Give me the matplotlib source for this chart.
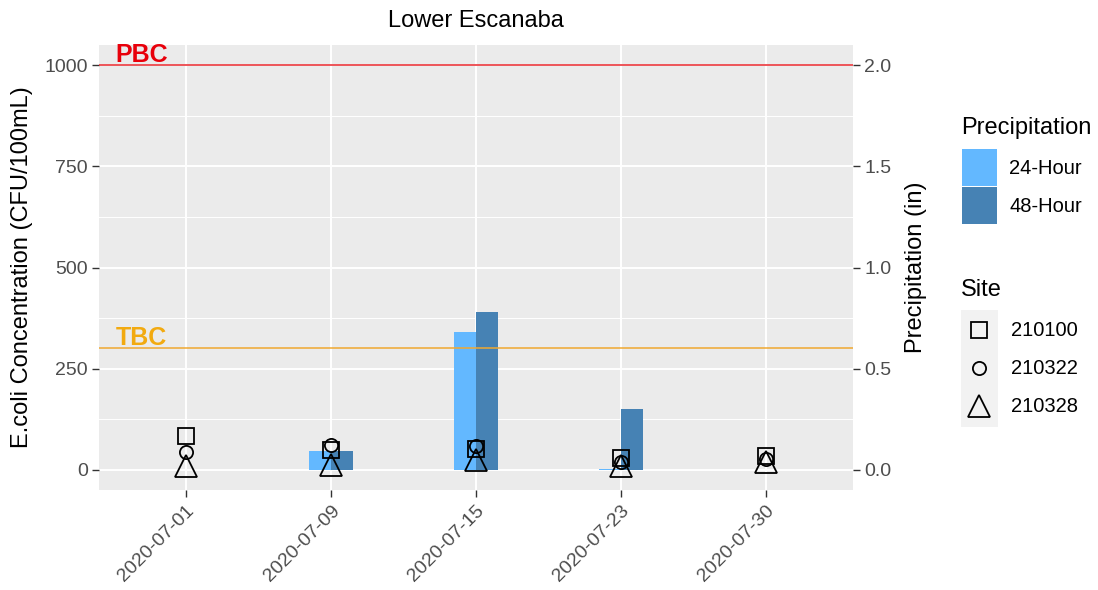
import numpy as np
import matplotlib
matplotlib.use("Agg")
import matplotlib.pyplot as plt
from matplotlib.patches import Rectangle
from matplotlib.lines import Line2D

plt.rcParams['font.family'] = ['Liberation Sans', 'DejaVu Sans']

# data
dates = ["2020-07-01", "2020-07-09", "2020-07-15", "2020-07-23", "2020-07-30"]
precip_24h = [0.0, 0.095, 0.68, 0.005, 0.0]
precip_48h = [0.0, 0.095, 0.78, 0.30, 0.0]
sites = ["210100", "210322", "210328"]
ecoli_210100 = [84, 50, 52, 28, 33]
ecoli_210322 = [44, 62, 60, 20, 27]
ecoli_210328 = [10, 12, 25, 10, 18]
TBC = 300
PBC = 1000
SEC_SCALE = 500  # CFU units per inch of precipitation

W, H, DPI = 1098, 590, 100
fig = plt.figure(figsize=(W / DPI, H / DPI), dpi=DPI)

def fx(px):
    return px / W

def fy(py):
    return 1 - py / H

grey_txt = '#4D4D4D'
c24 = '#63B8FF'
c48 = '#4682B4'
tick_fs = 14
title_fs = 17
leg_fs = 14.5

ax = fig.add_axes([fx(99), fy(490), fx(853) - fx(99), fy(45) - fy(490)])
ax.set_facecolor('#EBEBEB')
for s in ax.spines.values():
    s.set_visible(False)

x = np.arange(1, len(dates) + 1)
bw = 0.155
ax.bar(x - bw / 2, np.array(precip_24h) * SEC_SCALE, width=bw, color=c24, zorder=2)
ax.bar(x + bw / 2, np.array(precip_48h) * SEC_SCALE, width=bw, color=c48, zorder=2)

ax.axhline(PBC, color='#E8262B', lw=1.1, zorder=3)
ax.axhline(TBC, color='#F0A830', lw=1.1, zorder=3)
ax.text(0.515, PBC + 8, "PBC", color='#E8000B', fontsize=18, fontweight='bold', zorder=4)
ax.text(0.515, TBC + 8, "TBC", color='#F2AA10', fontsize=18, fontweight='bold', zorder=4)

mk = dict(color='black', mfc='none', mew=1.3, ls='none', zorder=5)
ax.plot(x, ecoli_210100, marker='s', ms=11.5, **mk)
ax.plot(x, ecoli_210322, marker='o', ms=9.5, **mk)
ax.plot(x, ecoli_210328, marker='^', ms=15.5, **mk)

ax.set_xlim(0.4, len(dates) + 0.6)
ax.set_ylim(-50, 1050)
ax.set_xticks(x)
ax.set_xticklabels(dates, rotation=45, ha='right', va='top', rotation_mode='anchor',
                   fontsize=13)
ax.set_yticks([0, 250, 500, 750, 1000])
ax.set_yticks([125, 375, 625, 875], minor=True)
ax.grid(which='major', color='white', lw=1.4, zorder=0)
ax.grid(which='minor', axis='y', color='white', lw=0.7, zorder=0)
ax.set_axisbelow(True)
ax.tick_params(which='major', length=5, width=1, color='#333333', labelcolor=grey_txt,
               labelsize=tick_fs, pad=3)
ax.tick_params(axis='x', pad=4)
ax.tick_params(which='minor', length=0)

sec = ax.secondary_yaxis('right', functions=(lambda v: v / SEC_SCALE, lambda v: v * SEC_SCALE))
sec.set_yticks([0.0, 0.5, 1.0, 1.5, 2.0])
sec.set_yticklabels(["0.0", "0.5", "1.0", "1.5", "2.0"])
sec.spines['right'].set_visible(False)
sec.tick_params(length=5, width=1, color='#333333', labelcolor=grey_txt, labelsize=tick_fs, pad=3)

# titles placed like ggplot
fig.text(fx(476), fy(21), "Lower Escanaba", fontsize=title_fs, ha='center', va='center')
fig.text(fx(22), fy(267), "E.coli Concentration (CFU/100mL)", fontsize=title_fs,
         rotation=90, ha='center', va='center')
fig.text(fx(916), fy(267), "Precipitation (in)", fontsize=title_fs,
         rotation=90, ha='center', va='center')

# legends, drawn by hand in ggplot style
fig.text(fx(961), fy(128), "Precipitation", fontsize=title_fs, va='center', ha='left')
for i, (lab, col) in enumerate(zip(["24-Hour", "48-Hour"], [c24, c48])):
    top = 149 + i * 38
    fig.add_artist(Rectangle((fx(962), fy(top + 37)), fx(35), fy(top) - fy(top + 37),
                             transform=fig.transFigure, color=col, lw=0))
    fig.text(fx(1009), fy(top + 19), lab, fontsize=leg_fs, va='center', ha='left')

fig.text(fx(961), fy(290), "Site", fontsize=title_fs, va='center', ha='left')
fig.add_artist(Rectangle((fx(961), fy(427)), fx(37), fy(310) - fy(427),
                         transform=fig.transFigure, color='#F2F2F2', lw=0))
for i, (lab, m, s) in enumerate(zip(sites, ['s', 'o', '^'], [11.5, 9.5, 15.5])):
    cy = 330 + i * 38
    fig.add_artist(Line2D([fx(979)], [fy(cy)], marker=m, ms=s, color='black', mfc='none',
                          mew=1.3, transform=fig.transFigure))
    fig.text(fx(1011), fy(cy), lab, fontsize=leg_fs, va='center', ha='left')

fig.savefig("out.png", dpi=DPI)
